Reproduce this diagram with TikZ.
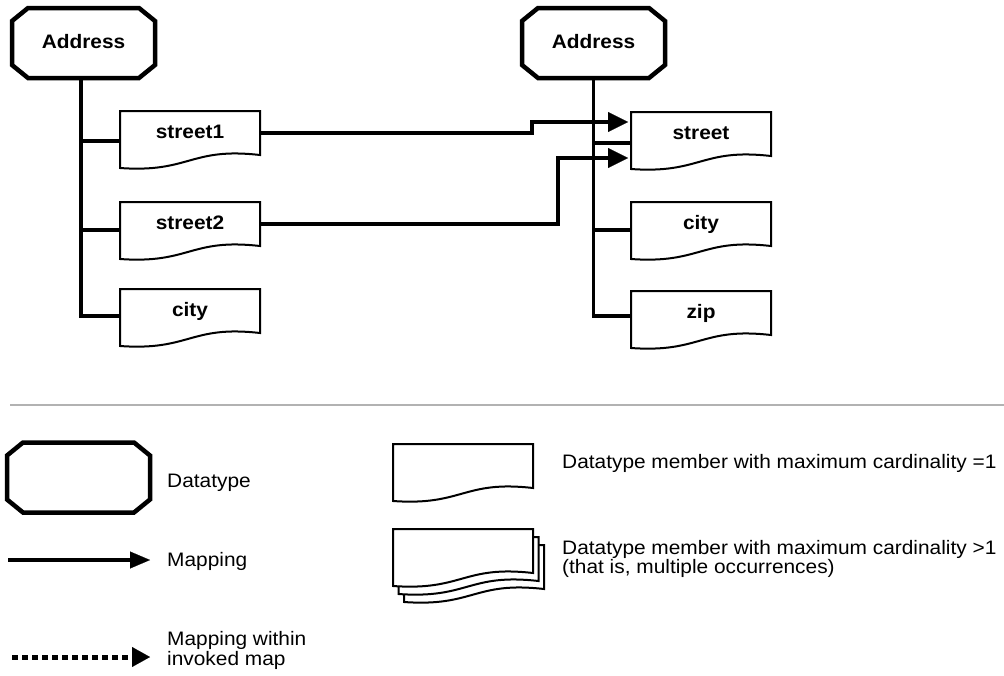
\documentclass[tikz,border=0pt]{standalone}
\usepackage{fontspec}
\setmainfont{Liberation Sans}[FakeStretch=1.07]
\usetikzlibrary{arrows.meta,calc}

\pgfdeclarelayer{treel}
\pgfdeclarelayer{boxl}
\pgfsetlayers{treel,boxl,main}

\tikzset{
  lbl/.style={font=\fontsize{19.5}{20}\selectfont\bfseries, text height=14pt, text depth=4pt, inner sep=0pt},
  member/.style={draw=none, minimum width=140pt, minimum height=44pt, inner sep=0pt, outer sep=0pt, lbl},
  memberline/.style={line width=2pt, fill=white, line join=miter},
  octnode/.style={minimum width=143pt, minimum height=70pt, inner sep=0pt, outer sep=0pt, lbl},
  octline/.style={line width=4.5pt, line join=miter, fill=white},
  tree/.style={line width=3.5pt},
  mapline/.style={line width=4.5pt, -{Triangle[length=20pt,width=20pt,line width=0.1pt]}},
  legtext/.style={font=\fontsize{19.5}{20}\selectfont, inner sep=0pt, anchor=base west, align=left},
}

\newcommand\octagonshape[1]{%
  \begin{pgfonlayer}{boxl}
  \draw[octline] ($(#1.north west)+(16,0)$) -- ($(#1.north east)+(-16,0)$)
    -- ($(#1.north east)+(0,13)$) -- ($(#1.south east)+(0,-13)$)
    -- ($(#1.south east)+(-16,0)$) -- ($(#1.south west)+(16,0)$)
    -- ($(#1.south west)+(0,-13)$) -- ($(#1.north west)+(0,13)$) -- cycle;
  \end{pgfonlayer}}
\newcommand\memberoutline[1]{%
  \begin{pgfonlayer}{boxl}
  \draw[memberline] (#1.north west) -- (#1.north east) -- (#1.south east)
    .. controls ($(#1.south east)+(-70,-8)$) and ($(#1.south west)+(70,18)$) ..
    ($(#1.south west)+(0,13)$) -- cycle;
  \end{pgfonlayer}}

\begin{document}
\begin{tikzpicture}[x=1pt,y=-1pt]
\useasboundingbox (0,0) rectangle (1004,675);

% ---- left datatype ----
\node[octnode] (laddr) at (83.5,43) {Address};
\octagonshape{laddr}
\node[member] (l1) at (190,133) {street1};
\node[member] (l2) at (190,224) {street2};
\node[member] (l3) at (190,311) {city};
\memberoutline{l1}
\memberoutline{l2}
\memberoutline{l3}
\coordinate (lb1) at ($(l1.north west)+(0,30)$);
\coordinate (lb2) at ($(l2.north west)+(0,28)$);
\coordinate (lb3) at ($(l3.north west)+(0,27)$);
\coordinate (lt) at ($(laddr.south)+(-2.5,0)$);
\begin{pgfonlayer}{treel}
\draw[tree] (lt) -- ($(lt |- lb3)+(0,1.75)$);
\draw[tree] (lt |- lb1) -- (lb1);
\draw[tree] (lt |- lb2) -- (lb2);
\draw[tree] ($(lt |- lb3)+(-1.75,0)$) -- (lb3);
\end{pgfonlayer}

% ---- right datatype ----
\node[octnode] (raddr) at (593.5,43) {Address};
\octagonshape{raddr}
\node[member] (r1) at (701,134) {street};
\node[member] (r2) at (701,224) {city};
\node[member] (r3) at (701,313) {zip};
\memberoutline{r1}
\memberoutline{r2}
\memberoutline{r3}
\coordinate (rb1) at ($(r1.north west)+(0,31)$);
\coordinate (rb2) at ($(r2.north west)+(0,28)$);
\coordinate (rb3) at ($(r3.north west)+(0,25)$);
\begin{pgfonlayer}{treel}
\draw[tree] (raddr.south) -- ($(raddr.south |- rb3)+(0,1.75)$);
\draw[tree] (raddr.south |- rb1) -- (rb1);
\draw[tree] (raddr.south |- rb2) -- (rb2);
\draw[tree] ($(raddr.south |- rb3)+(-1.75,0)$) -- (rb3);
\end{pgfonlayer}

% ---- mappings ----
\coordinate (k1) at (532,0);
\coordinate (k2) at (558,0);
\coordinate (e1) at ($(r1.north west)+(-3,10)$);
\coordinate (e2) at ($(r1.north west)+(-3,46)$);
\draw[mapline] (l1.east) -| (k1 |- e1) -- (e1);
\draw[mapline] (l2.east) -| (k2 |- e2) -- (e2);

% ---- separator ----
\draw[black!30, line width=1.5pt] (10,405) -- (1004,405);

% ---- legend ----
\node[octnode] (legoct) at (78.5,477.5) {};
\octagonshape{legoct}
\node[legtext] (t1) at (167,487) {Datatype};

\coordinate (m0) at (8,560);
\coordinate (m1) at (150,560);
\draw[line width=4pt, -{Triangle[length=20pt,width=17pt,line width=0.1pt]}] (m0) -- (m1);
\node[legtext] (t2) at (167,566) {Mapping};

\coordinate (d0) at (12,657);
\coordinate (d1) at (150,657);
\draw[line width=5pt, dash pattern=on 6pt off 4pt, -{Triangle[length=18pt,width=20pt,line width=0.1pt]}] (d0) -- (d1);
\node[legtext] (t3) at (167,665) {Mapping within\\invoked map};

\node[member] (leg1) at (463,466) {};
\memberoutline{leg1}
\node[legtext] (t4) at (562,468) {Datatype member with maximum cardinality =1};

\node[member] (leg2c) at (474,567) {};
\node[member] (leg2b) at (468.5,559) {};
\node[member] (leg2a) at (463,551) {};
\memberoutline{leg2c}
\memberoutline{leg2b}
\memberoutline{leg2a}
\node[legtext, font=\fontsize{19.5}{18.5}\selectfont] (t5) at (562,573) {Datatype member with maximum cardinality >1\\(that is, multiple occurrences)};
\end{tikzpicture}
\end{document}
